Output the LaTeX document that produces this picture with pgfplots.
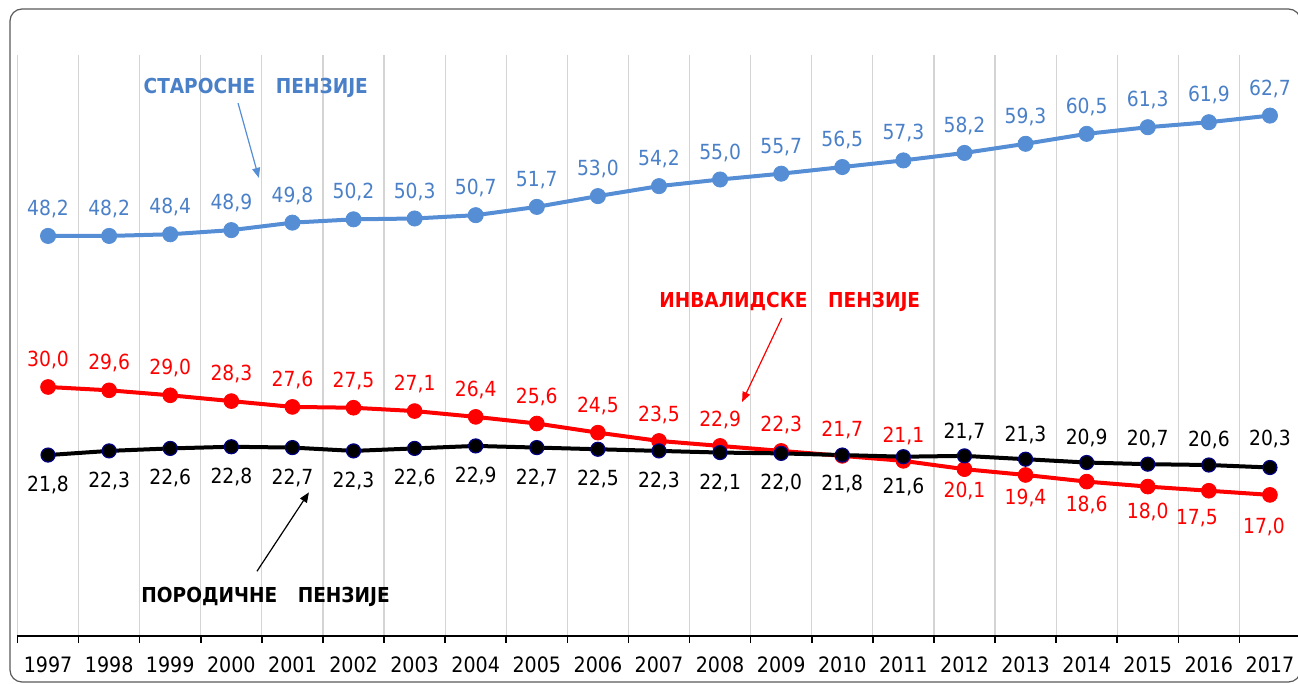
\documentclass[border=0pt]{standalone}
\usepackage{fontspec}
\setmainfont{DejaVu Sans Condensed}
\usepackage{pgfplots}
\usepackage{pgfplotstable}
\pgfplotsset{compat=1.18}
\usetikzlibrary{arrows.meta}

\definecolor{oldblue}{HTML}{558ED5}
\definecolor{oldtext}{HTML}{4A80C8}
\definecolor{invred}{HTML}{FF0000}
\definecolor{famedge}{HTML}{000080}
\definecolor{gridgray}{HTML}{D4D4D4}
\definecolor{framegray}{HTML}{595959}

% x = year index (0 = 1997), dy/dx = label offset in pt
\pgfplotstableread{
x y dy dx
0 48.2 13.5 0
1 48.2 13.5 0
2 48.4 13.5 0
3 48.9 13.5 0
4 49.8 13.5 0
5 50.2 13.5 0
6 50.3 13.5 0
7 50.7 13.5 0
8 51.7 13.5 0
9 53.0 13.5 0
10 54.2 13.5 0
11 55.0 13.5 0
12 55.7 13.5 0
13 56.5 13.5 0
14 57.3 13.5 0
15 58.2 13.5 0
16 59.3 13.5 0
17 60.5 13.5 0
18 61.3 13.5 0
19 61.9 13.5 0
20 62.7 13.5 0
}\oldage

\pgfplotstableread{
x y dy dx
0 30.0 13.5 0
1 29.6 13.5 0
2 29.0 13.5 0
3 28.3 13.5 0
4 27.6 13.5 0
5 27.5 13.5 0
6 27.1 13.5 0
7 26.4 13.5 0
8 25.6 13.5 0
9 24.5 13.5 0
10 23.5 13 0
11 22.9 13 0
12 22.3 13 0
13 21.7 13 0
14 21.1 12.5 0
15 20.1 -11 0
16 19.4 -11.5 0
17 18.6 -11.5 0
18 18.0 -12.5 0
19 17.5 -13.5 -6
20 17.0 -16 -3
}\disability

\pgfplotstableread{
x y dy dx
0 21.8 -15 0
1 22.3 -15 0
2 22.6 -15 0
3 22.8 -15 0
4 22.7 -15 0
5 22.3 -15 0
6 22.6 -15 0
7 22.9 -15 0
8 22.7 -15 0
9 22.5 -15 0
10 22.3 -15 0
11 22.1 -15 0
12 22.0 -15 0
13 21.8 -14.5 0
14 21.6 -15 0
15 21.7 12 0
16 21.3 12 0
17 20.9 12.5 0
18 20.7 12.5 0
19 20.6 12.5 0
20 20.3 14.5 0
}\family

\begin{document}
\begin{tikzpicture}
\begin{axis}[
    at={(0,0)}, anchor=south west,
    scale only axis,
    width=641.5pt, height=290.5pt,
    xmin=-0.5, xmax=20.5, ymin=0, ymax=70,
    clip=false,
    axis y line=none,
    axis x line*=bottom,
    x axis line style={-, black, line width=1.1pt},
    ytick=\empty,
    xtick={0,...,20},
    xticklabels={1997,1998,1999,2000,2001,2002,2003,2004,2005,2006,2007,2008,2009,2010,2011,2012,2013,2014,2015,2016,2017},
    major tick length=0pt,
    minor xtick={-0.5,0.5,...,20.5},
    minor tick length=3.5pt,
    tick align=outside,
    minor tick style={black, line width=0.8pt},
    xminorgrids,
    minor x grid style={gridgray, line width=0.6pt},
    xticklabel style={font=\fontsize{10.6}{12}\selectfont, anchor=center, yshift=-14.5pt},
    /pgf/number format/.cd, use comma, fixed, fixed zerofill, precision=1, assume math mode=true,
]
\addplot[oldblue, line width=2pt, mark=*, mark size=3.8pt,
    mark options={fill=oldblue, draw=oldblue, line width=0.4pt},
    visualization depends on={\thisrow{dy} \as \labdy},
    visualization depends on={\thisrow{dx} \as \labdx},
    point meta=\thisrow{y},
    nodes near coords,
    every node near coord/.append style={anchor=center, yshift=\labdy pt, xshift=\labdx pt,
        text=oldtext, font=\fontsize{10.4}{12}\selectfont}]
    table[x=x, y=y] {\oldage};
\addplot[invred, line width=2pt, mark=*, mark size=3.7pt,
    mark options={fill=invred, draw=invred, line width=0.4pt},
    visualization depends on={\thisrow{dy} \as \labdy},
    visualization depends on={\thisrow{dx} \as \labdx},
    point meta=\thisrow{y},
    nodes near coords,
    every node near coord/.append style={anchor=center, yshift=\labdy pt, xshift=\labdx pt,
        text=invred, font=\fontsize{10.4}{12}\selectfont}]
    table[x=x, y=y] {\disability};
\addplot[black, line width=2pt, mark=*, mark size=3.5pt,
    mark options={fill=black, draw=famedge, line width=0.6pt},
    visualization depends on={\thisrow{dy} \as \labdy},
    visualization depends on={\thisrow{dx} \as \labdx},
    point meta=\thisrow{y},
    nodes near coords,
    every node near coord/.append style={anchor=center, yshift=\labdy pt, xshift=\labdx pt,
        text=black, font=\fontsize{10.4}{12}\selectfont}]
    table[x=x, y=y] {\family};

\node[text=oldtext, font=\fontsize{10.3}{12}\selectfont\bfseries] at (axis cs:3.40,66.0) {СТАРОСНЕ\quad ПЕНЗИЈЕ};
\draw[oldblue, line width=0.6pt, -{Triangle[length=5pt,width=4pt]}] (axis cs:3.11,64.2) -- (axis cs:3.45,55.2);

\node[text=invred, font=\fontsize{10.3}{12}\selectfont\bfseries] at (axis cs:12.14,40.2) {ИНВАЛИДСКЕ\quad ПЕНЗИЈЕ};
\draw[invred, line width=0.6pt, -{Triangle[length=5pt,width=4pt]}] (axis cs:12.01,38.3) -- (axis cs:11.36,28.2);

\node[text=black, font=\fontsize{10.3}{12}\selectfont\bfseries] at (axis cs:3.56,4.7) {ПОРОДИЧНЕ\quad ПЕНЗИЈЕ};
\draw[black, line width=0.6pt, -{Triangle[length=5pt,width=4pt]}] (axis cs:3.42,7.8) -- (axis cs:4.27,17.3);
\end{axis}
\draw[framegray, line width=0.6pt, rounded corners=6pt] (-3.75pt,-23pt) rectangle (641.5pt,313.5pt);
\pgfresetboundingbox
\path[use as bounding box] (-8.75pt,-24pt) rectangle (640.25pt,318pt);
\end{tikzpicture}
\end{document}
